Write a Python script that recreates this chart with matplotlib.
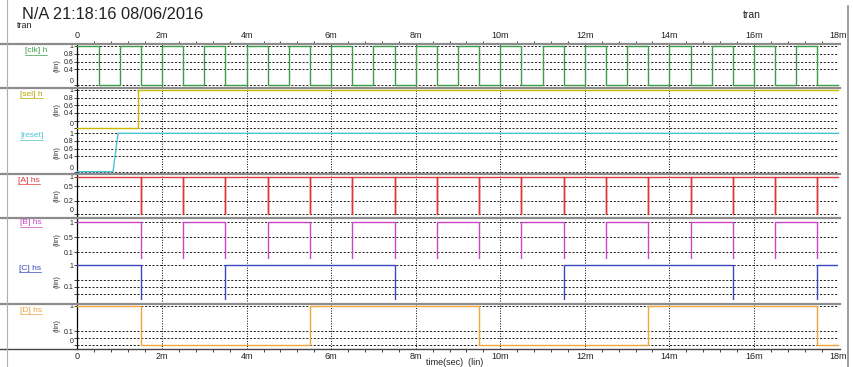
import matplotlib
matplotlib.use("Agg")
import matplotlib.pyplot as plt
from matplotlib.lines import Line2D
from matplotlib.ticker import MultipleLocator, FixedLocator

# ---- waveform data (time in ms) ----
clk_t = [0.0, 0.5, 1.0, 1.5, 2.0, 2.5, 3.0, 3.5, 4.0, 4.5, 5.0, 5.5, 6.0, 6.5,
         7.0, 7.5, 8.0, 8.5, 9.0, 9.5, 10.0, 10.5, 11.0, 11.5, 12.0, 12.5,
         13.0, 13.5, 14.0, 14.5, 15.0, 15.5, 16.0, 16.5, 17.0, 17.5, 18.0]
clk_v = [1, 0, 1, 0, 1, 0, 1, 0, 1, 0, 1, 0, 1, 0, 1, 0, 1, 0, 1, 0, 1, 0,
         1, 0, 1, 0, 1, 0, 1, 0, 1, 0, 1, 0, 1, 0, 0]

sel_t = [0.0, 1.42, 18.0]
sel_v = [0, 1, 1]

reset_t = [0.0, 0.84, 0.96, 18.0]
reset_v = [0, 0, 1, 1]

a_glitch_t = [1.5, 2.5, 3.5, 4.5, 5.5, 6.5, 7.5, 8.5, 9.5, 10.5, 11.5, 12.5,
              13.5, 14.5, 15.5, 16.5, 17.5]

b_t = [0.0, 1.5, 2.5, 3.5, 4.5, 5.5, 6.5, 7.5, 8.5, 9.5, 10.5, 11.5, 12.5,
       13.5, 14.5, 15.5, 16.5, 17.5, 18.0]
b_v = [1, 0, 1, 0, 1, 0, 1, 0, 1, 0, 1, 0, 1, 0, 1, 0, 1, 0, 0]

c_t = [0.0, 1.5, 3.5, 7.5, 11.5, 15.5, 17.5, 18.0]
c_v = [1, 0, 1, 0, 1, 0, 1, 1]

d_t = [0.0, 1.5, 5.5, 9.5, 13.5, 17.5, 18.0]
d_v = [1, 0, 1, 0, 1, 0, 0]

x_ticks = [0, 2, 4, 6, 8, 10, 12, 14, 16, 18]
x_labels = ["0", "2m", "4m", "6m", "8m", "10m", "12m", "14m", "16m", "18m"]

# ---- figure setup ----
W, H = 854, 367
plt.rcParams['font.family'] = ['Liberation Sans', 'DejaVu Sans']
fig = plt.figure(figsize=(W / 100, H / 100), dpi=100)
fig.patch.set_facecolor('white')


def px_rect(x0, y0, x1, y1):
    return [x0 / W, 1 - y1 / H, (x1 - x0) / W, (y1 - y0) / H]


def hline(y, x0, x1, color, lw):
    fig.add_artist(Line2D([x0 / W, x1 / W], [1 - y / H, 1 - y / H],
                          color=color, lw=lw, transform=fig.transFigure))


def vline(x, y0, y1, color, lw):
    fig.add_artist(Line2D([x / W, x / W], [1 - y0 / H, 1 - y1 / H],
                          color=color, lw=lw, transform=fig.transFigure))


X0, X1 = 77.5, 838.5
TOP, BOT = 43.5, 349.0

# frame axes: time scale, vertical grid, y axis line
frame = fig.add_axes(px_rect(X0, TOP, X1, BOT))
frame.set_xlim(0, 18)
frame.set_ylim(0, 1)
frame.set_yticks([])
frame.set_xticks(x_ticks)
frame.set_xticklabels(x_labels)
frame.xaxis.set_minor_locator(MultipleLocator(0.4))
frame.tick_params(axis='x', which='both', top=True, bottom=True,
                  labeltop=True, labelbottom=True, labelsize=6.5,
                  colors='#222222', pad=2.5)
frame.tick_params(axis='x', which='major', length=0)
frame.tick_params(axis='x', which='minor', length=2.5, width=0.6)
frame.xaxis.grid(True, which='major', linestyle=(0, (1, 1.6)),
                 color='black', lw=0.7)
for s in ('top', 'bottom', 'right'):
    frame.spines[s].set_visible(False)
frame.spines['left'].set_color('black')
frame.spines['left'].set_linewidth(0.9)
frame.patch.set_alpha(0)


def signal_axes(y_one, y_zero, grid_levels, tick_labels, lo=0.0, hi=1.0):
    """Strip whose value 1 sits at pixel row y_one and value 0 at y_zero;
    the visible window runs from lo to hi."""
    span = y_zero - y_one
    top_px = y_zero - hi * span
    bot_px = y_zero - lo * span
    ax = fig.add_axes(px_rect(X0, top_px, X1, bot_px))
    ax.patch.set_alpha(0)
    ax.set_xlim(0, 18)
    ax.set_ylim(lo, hi)
    ax.set_xticks([])
    for s in ax.spines.values():
        s.set_visible(False)
    ax.yaxis.set_major_locator(FixedLocator(grid_levels))
    ax.set_yticklabels(tick_labels)
    ax.tick_params(axis='y', labelsize=5, length=2, width=0.6, pad=1,
                   colors='#222222')
    for lvl, lab in zip(grid_levels, ax.get_yticklabels()):
        if lvl <= 0:
            lab.set_va('bottom')
    ax.yaxis.grid(True, linestyle=(0, (2.5, 2)), color='black', lw=0.6)
    for gl in ax.get_ygridlines():
        gl.set_clip_on(False)
    ax.set_ylabel('(lin)', fontsize=5.5, labelpad=2, color='#333333')
    return ax


LW = 1.0

ax = signal_axes(46, 85, [0, 0.4, 0.6, 0.8, 1], ["0", "0.4", "0.6", "0.8", "1"])
ax.step(clk_t, clk_v, where='post', color='#3c9e46', lw=LW, clip_on=False)

ax = signal_axes(90, 128.3, [0, 0.2, 0.4, 0.6, 0.8, 1],
                 ["0", "", "0.4", "0.6", "0.8", "1"])
ax.step(sel_t, sel_v, where='post', color='#c9b800', lw=LW, clip_on=False)

ax = signal_axes(133.3, 171.7, [0, 0.4, 0.6, 0.8, 1],
                 ["0", "0.4", "0.6", "0.8", "1"])
ax.plot(reset_t, reset_v, color='#4cc3d0', lw=LW, clip_on=False)

ax = signal_axes(176.7, 214, [0, 0.35, 0.75, 1], ["0", "0.2", "0.5", "1"])
a_x, a_y = [0.0], [1]
for t in a_glitch_t:
    a_x += [t, t, t]
    a_y += [1, 0, 1]
a_x.append(18.0)
a_y.append(1)
ax.plot(a_x, a_y, color='#e0383a', lw=LW, clip_on=False)

# B and C: the display window stops just above the 0 level
ax = signal_axes(222.3, 260, [0.2, 0.6, 1], ["0.1", "0.5", "1"],
                 lo=0.03, hi=1.06)
ax.step(b_t, b_v, where='post', color='#cc44c4', lw=LW)

ax = signal_axes(265.3, 301, [0.2, 0.4, 0.6, 1], ["", "0.1", "", "1"],
                 lo=0.03, hi=1.06)
ax.step(c_t, c_v, where='post', color='#3848c0', lw=LW)

ax = signal_axes(305.5, 344.7, [0, 0.17, 0.34, 1], ["0", "", "0.1", "1"])
ax.step(d_t, d_v, where='post', color='#f0a43a', lw=LW, clip_on=False)

# panel separators and borders
for y in (43.5, 87.5, 173.5, 217.5, 303.5):
    hline(y, 0, 840, '#8c8c8c', 1.6)
hline(349.0, 0, 840, '#444444', 1.0)
vline(7.5, 0, 367, '#b0b0b0', 0.8)
vline(848.5, 6, 367, '#8c8c8c', 1.2)

# signal names, underlined
names = [("[clk] h", 25, 51, '#3c9e46'),
         ("[sel] h", 20, 94, '#b8a800'),
         ("[reset]", 20, 135.5, '#4cc3d0'),
         ("[A] hs", 18, 180, '#e0383a'),
         ("[B] hs", 20, 223, '#cc44c4'),
         ("[C] hs", 19, 268, '#3848c0'),
         ("[D] hs", 20, 310, '#f0a43a')]
renderer = fig.canvas.get_renderer()
for txt, x, y, col in names:
    t = fig.text(x / W, 1 - y / H, txt, fontsize=6, color=col,
                 ha='left', va='center')
    bb = t.get_window_extent(renderer)
    uy = 1 - (y + 4) / H
    fig.add_artist(Line2D([bb.x0 / W, bb.x1 / W], [uy, uy], color=col,
                          lw=0.5, transform=fig.transFigure))

# header text
fig.text(22 / W, 1 - 14.5 / H, "N/A 21:18:16 08/06/2016", fontsize=11.8,
         color='#222222', ha='left', va='center')
fig.text(17 / W, 1 - 25.5 / H, "tran", fontsize=6.5, color='#222222',
         ha='left', va='center')
fig.text(752 / W, 1 - 14.5 / H, "tran", fontsize=7.5, color='#222222',
         ha='center', va='center')
fig.text(455 / W, 1 - 362.8 / H, "time(sec)  (lin)", fontsize=6.5,
         color='#222222', ha='center', va='center')

fig.savefig("out.png", dpi=100)
